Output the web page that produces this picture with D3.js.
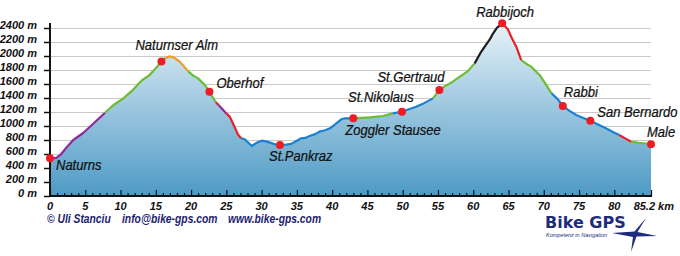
<!DOCTYPE html>
<html>
<head>
<meta charset="utf-8">
<script src="https://cdn.jsdelivr.net/npm/d3@7"></script>
<style>
  body { margin: 0; background: #fff; }
  svg { display: block; font-family: "Liberation Sans", Arial, sans-serif; }
  .grid line { stroke: #c9c9c9; stroke-width: 1; }
  .lbl { font-style: italic; font-size: 14px; fill: #111; stroke: #111; stroke-width: 0.25; }
  .axlbl { font-style: italic; font-weight: bold; font-size: 11px; fill: #111; }
  .copy { font-style: italic; font-weight: bold; font-size: 12px; fill: #1c1c6e; }
</style>
</head>
<body>
<div id="chart"></div>
<script>
const FRAME_WIDTH = 680;
const FRAME_HEIGHT = 256;
const MARGINS = {left: 50, right: 29, top: 28, bottom: 60};

// elevation profile, km / metres
const profileKm = [0, 0.9, 1.5, 2.4, 3.3, 4.7, 6.2, 7.8, 9.0, 10.4, 11.8, 13.0, 14.0, 14.6, 15.8, 16.4, 17.0,
  17.6, 18.4, 19.6, 20.3, 21.0, 22.0, 22.6, 23.5, 23.9, 25.0, 25.5, 26.1, 26.7, 27.1, 27.6, 28.6, 29.3, 30.0,
  30.6, 31.2, 32.0, 32.6, 33.5, 34.2, 35.0, 35.6, 36.2, 36.8, 37.5, 38.2, 39.0, 39.7, 40.5, 41.3, 41.8, 43.0,
  45.3, 47.2, 48.6, 49.9, 50.9, 51.9, 53.1, 54.3, 55.2, 56.0, 57.1, 58.1, 59.2, 60.2, 61.0, 61.6, 62.3, 62.8,
  63.3, 64.1, 64.9, 65.5, 66.1, 66.8, 67.5, 68.2, 69.4, 70.2, 71.1, 72.0, 72.7, 73.6, 74.6, 75.6, 76.6, 77.7,
  78.8, 79.8, 80.7, 81.6, 82.4, 83.5, 84.5, 85.2];
const profileElev = [540, 545, 590, 700, 800, 900, 1040, 1190, 1300, 1395, 1520, 1650, 1720, 1780, 1920, 1975, 1995,
  1975, 1920, 1780, 1720, 1680, 1580, 1490, 1340, 1300, 1180, 1130, 1000, 870, 825, 810, 715, 760, 790,
  780, 762, 735, 729, 735, 745, 790, 824, 830, 857, 880, 919, 940, 967, 1030, 1096, 1110, 1110,
  1124, 1143, 1181, 1205, 1240, 1276, 1330, 1395, 1514, 1570, 1633, 1704, 1780, 1895, 2040, 2130, 2229, 2320,
  2396, 2467, 2381, 2250, 2133, 1940, 1890, 1848, 1729, 1610, 1467, 1380, 1286, 1220, 1157, 1115, 1076, 1020,
  967, 915, 871, 820, 776, 760, 750, 740];

// coloured stretches of the track
const segStart = [0, 7.8, 16.4, 19.6, 23.5, 23.9, 25.0, 27.1, 43.0, 48.6, 54.3, 60.2, 64.1, 66.8, 71.1, 80.7, 82.4];
const segEnd   = [7.8, 16.4, 19.6, 23.5, 23.9, 25.0, 27.1, 43.0, 48.6, 54.3, 60.2, 64.1, 66.8, 71.1, 80.7, 82.4, 85.2];
const segType  = ["purple", "green", "orange", "green", "red", "purple", "red", "blue", "green", "blue", "green",
  "black", "red", "green", "blue", "red", "green"];

// places along the route
const towns = ["Naturns", "Naturnser Alm", "Oberhof", "St.Pankraz", "Zoggler Stausee", "St.Nikolaus",
  "St.Gertraud", "Rabbijoch", "Rabbi", "San Bernardo", "Male"];
const townKm = [0, 15.8, 22.6, 32.6, 43.0, 49.9, 55.2, 64.1, 72.7, 76.6, 85.2];
const townElev = [540, 1920, 1490, 729, 1110, 1205, 1514, 2467, 1286, 1076, 740];

const yTicks = [0, 200, 400, 600, 800, 1000, 1200, 1400, 1600, 1800, 2000, 2200, 2400];
const xTicks = [0, 5, 10, 15, 20, 25, 30, 35, 40, 45, 50, 55, 60, 65, 70, 75, 80];
const xEndLabel = "85.2 km";

const COLORS = {purple: "#8e2b9c", green: "#6cbd35", orange: "#f39a22", red: "#e91f27",
  blue: "#1c80d2", black: "#1e1e1e"};

// label offsets from each dot (layout only)
const LABEL_OFFSET = {
  "Naturns": [6, 12], "Naturnser Alm": [-26, -12], "Oberhof": [7, -4], "St.Pankraz": [-11, 16],
  "Zoggler Stausee": [-8, 17], "St.Nikolaus": [-54, -10], "St.Gertraud": [-62, -8],
  "Rabbijoch": [-26, -6], "Rabbi": [1, -9], "San Bernardo": [7, -4], "Male": [-4, -7]
};

const data = profileKm.map((k, i) => ({km: k, elev: profileElev[i]}));

const X_SCALE = d3.scaleLinear().domain([0, 85.2]).range([MARGINS.left, FRAME_WIDTH - MARGINS.right]);
const Y_SCALE = d3.scaleLinear().domain([0, 2400]).range([FRAME_HEIGHT - MARGINS.bottom, MARGINS.top]);
const BASE = Y_SCALE(0);

const FRAME = d3.select("#chart")
  .append("svg")
    .attr("width", FRAME_WIDTH)
    .attr("height", FRAME_HEIGHT);

// narrow text, like the condensed face of the original
function narrowText(parent, x, y, str, cls, sx) {
  return parent.append("text")
    .attr("class", cls)
    .attr("transform", "translate(" + x + "," + y + ") scale(" + sx + ",1)")
    .text(str);
}

// gradient for the area
const grad = FRAME.append("defs").append("linearGradient")
  .attr("id", "fill")
  .attr("gradientUnits", "userSpaceOnUse")
  .attr("x1", 0).attr("x2", 0)
  .attr("y1", Y_SCALE(2467)).attr("y2", BASE);
grad.append("stop").attr("offset", 0).attr("stop-color", "#e8f2f8");
grad.append("stop").attr("offset", 1).attr("stop-color", "#4d9ac5");

// gridlines
FRAME.append("g").attr("class", "grid")
  .selectAll("line").data(yTicks.filter(t => t > 0)).enter()
  .append("line")
    .attr("x1", MARGINS.left).attr("x2", X_SCALE(85.2))
    .attr("y1", d => Y_SCALE(d) + 0.5).attr("y2", d => Y_SCALE(d) + 0.5);

// filled profile
FRAME.append("path")
  .datum(data)
  .attr("fill", "url(#fill)")
  .attr("d", d3.area().x(d => X_SCALE(d.km)).y0(BASE).y1(d => Y_SCALE(d.elev)));

// coloured track
const line = d3.line().x(d => X_SCALE(d.km)).y(d => Y_SCALE(d.elev));
segType.forEach((t, i) => {
  const pts = data.filter(d => d.km >= segStart[i] && d.km <= segEnd[i]);
  FRAME.append("path")
    .datum(pts)
    .attr("fill", "none")
    .attr("stroke", COLORS[t])
    .attr("stroke-width", 2.2)
    .attr("stroke-linejoin", "round")
    .attr("d", line);
});

// y axis
const yAxis = FRAME.append("g")
  .attr("transform", "translate(" + MARGINS.left + ",0)")
  .call(d3.axisLeft(Y_SCALE).tickValues(yTicks).tickSize(6).tickFormat(d => d + " m"));
yAxis.select(".domain").attr("d", "M0," + (MARGINS.top - 5) + "V" + BASE).attr("stroke", "#111").attr("stroke-width", 2);
yAxis.selectAll(".tick line").attr("stroke", "#111").attr("stroke-width", 1.5);
yAxis.selectAll(".tick text").attr("class", "axlbl").attr("x", -13).attr("dy", "0").attr("font-family", null).attr("font-size", null);

// x axis, ticks point up
const xAxis = FRAME.append("g")
  .attr("transform", "translate(0," + BASE + ")")
  .call(d3.axisBottom(X_SCALE).tickValues(d3.range(0, 86, 1).concat([85.2])).tickSize(0).tickFormat(""));
xAxis.select(".domain").attr("d", "M" + (MARGINS.left - 1) + ",0H" + (X_SCALE(85.2) + 1)).attr("stroke", "#111").attr("stroke-width", 2);
xAxis.selectAll(".tick line")
  .attr("stroke", "#111").attr("stroke-width", 1.2)
  .attr("y2", d => (d % 5 === 0 || d === 85.2) ? -6 : -3);
xAxis.selectAll(".tick").filter(d => d === 85).remove();

FRAME.append("g").selectAll("text").data(xTicks).enter()
  .append("text")
    .attr("class", "axlbl")
    .attr("x", d => X_SCALE(d))
    .attr("y", BASE + 14)
    .attr("text-anchor", "middle")
    .text(d => d);
FRAME.append("text")
  .attr("class", "axlbl")
  .attr("x", X_SCALE(85.2) + 23)
  .attr("y", BASE + 14)
  .attr("text-anchor", "end")
  .text(xEndLabel);

// dots and names
FRAME.append("g").selectAll("circle").data(towns).enter()
  .append("circle")
    .attr("cx", (d, i) => X_SCALE(townKm[i]))
    .attr("cy", (d, i) => Y_SCALE(townElev[i]))
    .attr("r", 4)
    .attr("fill", "#ee1c25");

const labels = FRAME.append("g");
towns.forEach((d, i) => {
  narrowText(labels, X_SCALE(townKm[i]) + LABEL_OFFSET[d][0], Y_SCALE(townElev[i]) + LABEL_OFFSET[d][1], d, "lbl", 0.93);
});

// footer
const foot = FRAME.append("g");
narrowText(foot, 47, 223, "\u00a9 Uli Stanciu", "copy", 0.86);
narrowText(foot, 122, 223, "info@bike-gps.com", "copy", 0.86);
narrowText(foot, 228, 223, "www.bike-gps.com", "copy", 0.86);

// logo
const logo = FRAME.append("g");
logo.append("text")
  .attr("x", 545).attr("y", 228)
  .attr("font-family", "DejaVu Sans, sans-serif")
  .attr("font-weight", "bold")
  .attr("font-size", 16).attr("fill", "#1d2b7c")
  .text("Bike GPS");
logo.append("text")
  .attr("x", 546).attr("y", 237)
  .attr("font-style", "italic").attr("font-size", 5.5).attr("fill", "#1d2b7c")
  .text("Kompetenz in Navigation");
logo.append("path")
  .attr("fill", "#1d2b7c")
  .attr("d", "M646,218 L637.5,232 L657,236 L636.5,236.5 L631,252 L633,237 L612,233 L634.5,231.5 Z");
</script>
</body>
</html>
